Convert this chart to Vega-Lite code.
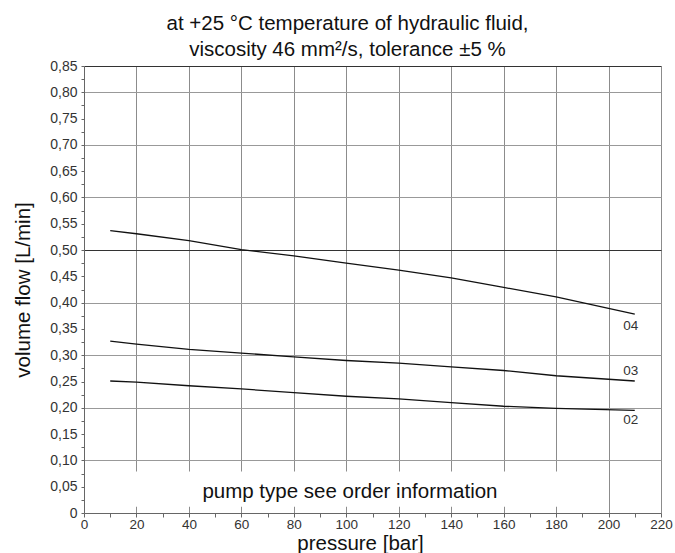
{
  "$schema": "https://vega.github.io/schema/vega-lite/v6.json",
  "width": 577,
  "height": 447,
  "autosize": {"type": "none"},
  "padding": {"left": 84, "top": 66, "right": 14, "bottom": 40},
  "config": {"font": "Liberation Sans", "view": {"stroke": null}},
  "title": {
    "text": ["at +25 °C temperature of hydraulic fluid,", "viscosity 46 mm²/s, tolerance ±5 %"],
    "fontSize": 20.5,
    "fontWeight": "normal",
    "color": "#111",
    "dx": -25,
    "offset": -1,
    "lineHeight": 26
  },
  "datasets": {
    "curves": [
      {"pump": "04", "pressure": 10, "flow": 0.537},
      {"pump": "04", "pressure": 20, "flow": 0.531},
      {"pump": "04", "pressure": 40, "flow": 0.518},
      {"pump": "04", "pressure": 60, "flow": 0.501},
      {"pump": "04", "pressure": 80, "flow": 0.489},
      {"pump": "04", "pressure": 100, "flow": 0.475},
      {"pump": "04", "pressure": 120, "flow": 0.462},
      {"pump": "04", "pressure": 140, "flow": 0.447},
      {"pump": "04", "pressure": 160, "flow": 0.429},
      {"pump": "04", "pressure": 180, "flow": 0.411},
      {"pump": "04", "pressure": 210, "flow": 0.378},
      {"pump": "03", "pressure": 10, "flow": 0.327},
      {"pump": "03", "pressure": 20, "flow": 0.321},
      {"pump": "03", "pressure": 40, "flow": 0.311},
      {"pump": "03", "pressure": 60, "flow": 0.304},
      {"pump": "03", "pressure": 80, "flow": 0.297},
      {"pump": "03", "pressure": 100, "flow": 0.29},
      {"pump": "03", "pressure": 120, "flow": 0.285},
      {"pump": "03", "pressure": 140, "flow": 0.278},
      {"pump": "03", "pressure": 160, "flow": 0.271},
      {"pump": "03", "pressure": 180, "flow": 0.261},
      {"pump": "03", "pressure": 210, "flow": 0.251},
      {"pump": "02", "pressure": 10, "flow": 0.251},
      {"pump": "02", "pressure": 20, "flow": 0.249},
      {"pump": "02", "pressure": 40, "flow": 0.242},
      {"pump": "02", "pressure": 60, "flow": 0.236},
      {"pump": "02", "pressure": 80, "flow": 0.229},
      {"pump": "02", "pressure": 100, "flow": 0.222},
      {"pump": "02", "pressure": 120, "flow": 0.217},
      {"pump": "02", "pressure": 140, "flow": 0.21},
      {"pump": "02", "pressure": 160, "flow": 0.203},
      {"pump": "02", "pressure": 180, "flow": 0.199},
      {"pump": "02", "pressure": 210, "flow": 0.195}
    ],
    "labels": [
      {"label": "04", "pressure": 208.5, "flow": 0.356},
      {"label": "03", "pressure": 208.5, "flow": 0.27},
      {"label": "02", "pressure": 208.5, "flow": 0.177}
    ]
  },
  "layer": [
    {
      "data": {"values": [{}]},
      "mark": {"type": "rect", "color": "white"},
      "encoding": {
        "x": {"datum": 3, "type": "quantitative", "scale": {"domain": [0, 220], "nice": false}, "axis": null},
        "x2": {"datum": 197},
        "y": {"datum": 0.012, "type": "quantitative", "scale": {"domain": [0, 0.85], "nice": false}, "axis": null},
        "y2": {"datum": 0.079}
      }
    },
    {
      "data": {"name": "labels"},
      "mark": {"type": "text", "fontSize": 13.5, "color": "#333"},
      "encoding": {
        "x": {
          "field": "pressure", "type": "quantitative",
          "axis": {"orient": "bottom", "grid": true, "values": [20, 40, 60, 80, 100, 120, 140, 160, 180, 200, 220], "labels": false, "ticks": false, "domain": false, "title": null, "gridColor": "#8c8c8c", "gridOpacity": 1}
        },
        "y": {
          "field": "flow", "type": "quantitative",
          "axis": {"orient": "left", "grid": true, "values": [0.1, 0.2, 0.3, 0.4, 0.5, 0.6, 0.7, 0.8, 0.85], "labels": false, "ticks": false, "domain": false, "title": null,
            "gridColor": {"condition": {"test": "datum.value == 0.5 || datum.value > 0.84", "value": "#333"}, "value": "#999"}, "gridOpacity": 1}
        },
        "text": {"field": "label"}
      }
    },
    {
      "data": {"name": "curves"},
      "mark": {"type": "line", "color": "#111", "strokeWidth": 1.3},
      "encoding": {
        "x": {
          "field": "pressure", "type": "quantitative",
          "axis": {"orient": "bottom", "grid": false, "values": [0, 10, 20, 30, 40, 50, 60, 70, 80, 90, 100, 110, 120, 130, 140, 150, 160, 170, 180, 190, 200, 210, 220],
            "labelExpr": "datum.value % 20 == 0 ? datum.label : ''", "labelOverlap": false, "labelFlush": false,
            "tickSize": 4, "tickColor": "#666", "domainColor": "#666", "labelFontSize": 13.5, "labelColor": "#333", "labelPadding": 0,
            "title": "pressure [bar]", "titleFontSize": 20.5, "titleFontWeight": "normal", "titleColor": "#111", "titlePadding": 3, "titleX": 276}
        },
        "y": {
          "field": "flow", "type": "quantitative",
          "axis": {"orient": "left", "grid": false,
            "values": [0, 0.025, 0.05, 0.075, 0.1, 0.125, 0.15, 0.175, 0.2, 0.225, 0.25, 0.275, 0.3, 0.325, 0.35, 0.375, 0.4, 0.425, 0.45, 0.475, 0.5, 0.525, 0.55, 0.575, 0.6, 0.625, 0.65, 0.675, 0.7, 0.725, 0.75, 0.775, 0.8, 0.825, 0.85],
            "labelExpr": "abs(datum.value*20 - round(datum.value*20)) < 0.001 ? (datum.value == 0 ? '0' : replace(format(datum.value, '.2f'), '.', ',')) : ''",
            "labelOverlap": false, "labelFlush": false,
            "tickSize": 3, "tickColor": "#666", "domainColor": "#666", "labelFontSize": 14, "labelColor": "#333", "labelPadding": 4,
            "title": "volume flow [L/min]", "titleFontSize": 20.5, "titleFontWeight": "normal", "titleColor": "#111", "titlePadding": 16}
        },
        "detail": {"field": "pump", "type": "nominal"}
      }
    },
    {
      "data": {"values": [{"note": "pump type see order information"}]},
      "mark": {"type": "text", "fontSize": 20.5, "color": "#111", "baseline": "alphabetic"},
      "encoding": {
        "x": {"datum": 101.4, "type": "quantitative", "axis": null},
        "y": {"datum": 0.0285, "type": "quantitative", "axis": null},
        "text": {"field": "note"}
      }
    }
  ],
  "resolve": {"axis": {"x": "independent", "y": "independent"}}
}
